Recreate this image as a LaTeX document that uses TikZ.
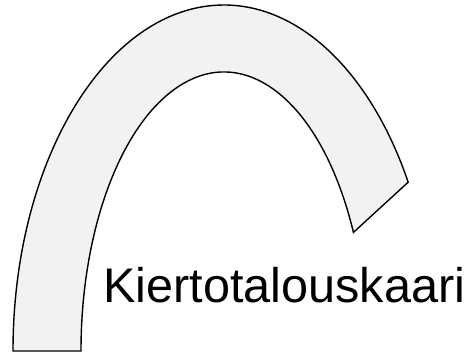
\documentclass[tikz,border=0pt]{standalone}
\usepackage{fontspec}
\setmainfont{Liberation Sans}
\begin{document}
\begin{tikzpicture}[x=1pt,y=1pt,
  arcshape/.style={draw=black,line width=1.4pt,fill={rgb,255:red,242;green,242;blue,242},line join=miter},
  label/.style={inner sep=0pt,anchor=base west,font=\fontsize{48.6}{58}\selectfont}]
\useasboundingbox (0,0) rectangle (469,357);
\coordinate (c) at (224,6);
\coordinate (ob) at (13,6);
\path (c) ++(29.2:211 and 346) coordinate (oe);
\path (c) ++(25.16:143 and 279) coordinate (ie);
\draw[arcshape] (ob) arc[start angle=180,end angle=29.2,x radius=211,y radius=346]
  -- (ie) arc[start angle=25.16,end angle=180,x radius=143,y radius=279] -- cycle;
\node[label] (t) at (103,55) {Kiertotalouskaari};
\end{tikzpicture}
\end{document}
